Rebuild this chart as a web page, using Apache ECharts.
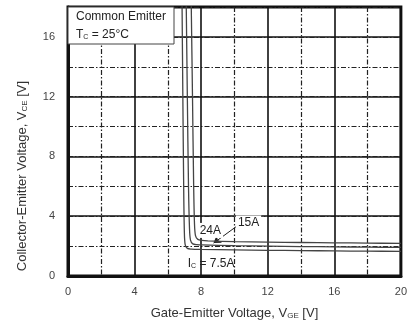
<!DOCTYPE html>
<html>
<head>
<meta charset="utf-8">
<script src="https://cdn.jsdelivr.net/npm/echarts@6/dist/echarts.min.js"></script>
<style>
html,body{margin:0;padding:0;background:#fff;}
#c{width:410px;height:327px;}
</style>
</head>
<body>
<div id="c"></div>
<script>
// ---- data ----
var xTicks = [0, 4, 8, 12, 16, 20];
var yTicks = [0, 4, 8, 12, 16];
var curveNames = ['7.5A', '15A', '24A'];
var vge_7_5A = [6.85, 6.9, 6.95, 6.99, 7.04, 7.17, 7.42, 8, 10, 12, 14, 16, 18, 20];
var vce_7_5A = [18.5, 12, 6, 3, 2.1, 1.85, 1.8, 1.78, 1.75, 1.72, 1.7, 1.68, 1.66, 1.65];
var vge_15A  = [7.1, 7.17, 7.24, 7.3, 7.36, 7.5, 7.75, 8.05, 10, 12, 14, 16, 18, 20];
var vce_15A  = [18.5, 12, 6, 3.2, 2.4, 2.15, 2.1, 2.08, 2.03, 2.0, 1.97, 1.95, 1.93, 1.92];
var vge_24A  = [7.4, 7.48, 7.55, 7.6, 7.66, 7.8, 8.05, 8.4, 10, 12, 14, 16, 18, 20];
var vce_24A  = [18.5, 12, 6, 3.5, 2.7, 2.45, 2.38, 2.35, 2.3, 2.27, 2.24, 2.22, 2.2, 2.18];

function zip(a, b) { return a.map(function (v, i) { return [v, b[i]]; }); }

var FONT = '"Liberation Sans", Arial, sans-serif';
var chart = echarts.init(document.getElementById('c'), null, {renderer: 'canvas'});
var lineStyleCurve = {color: '#444', width: 1.3};
var subRich = {sub: {fontSize: 7, verticalAlign: 'bottom', padding: [6, 0, 0, 0], color: '#222', fill: '#222', fontFamily: FONT}};

var option = {
  animation: false,
  backgroundColor: '#fff',
  grid: {left: 68, right: 5, top: 7, bottom: 51, show: true, borderColor: '#111', borderWidth: 3, backgroundColor: 'transparent'},
  xAxis: [{
    type: 'value', min: 0, max: 20, interval: 4,
    axisLine: {show: true, lineStyle: {color: '#111', width: 3}},
    axisTick: {show: false},
    axisLabel: {color: '#444', fontSize: 11, fontFamily: FONT, margin: 10,
      formatter: function (v) { return xTicks.indexOf(v) >= 0 ? String(v) : ''; }},
    splitLine: {show: true, lineStyle: {color: '#111', width: 1.6, type: 'solid'}},
    minorTick: {show: false, splitNumber: 2},
    minorSplitLine: {show: true, lineStyle: {color: '#222', width: 1.2, type: [5, 2, 1.5, 2]}},
    name: 'Gate-Emitter Voltage, V{sub|GE} [V]',
    nameLocation: 'middle', nameGap: 30,
    nameTextStyle: {color: '#333', fontSize: 13, fontFamily: FONT,
      rich: {sub: {fontSize: 8, verticalAlign: 'bottom', padding: [6, 0, 0, 0], color: '#333', fontFamily: FONT}}}
  }],
  yAxis: [{
    type: 'value', min: 0, max: 18, interval: 4,
    axisLine: {show: true, lineStyle: {color: '#111', width: 3}},
    axisTick: {show: false},
    axisLabel: {color: '#444', fontSize: 11, fontFamily: FONT, margin: 13, showMaxLabel: false,
      formatter: function (v) { return yTicks.indexOf(v) >= 0 ? String(v) : ''; }},
    splitLine: {show: true, lineStyle: {color: '#111', width: 1.6, type: 'solid'}}
  }, {
    type: 'value', min: 0, max: 18, interval: 2, position: 'left',
    axisLine: {show: false}, axisTick: {show: false}, axisLabel: {show: false},
    splitLine: {show: true, lineStyle: {color: '#222', width: 1.2, type: [5, 2, 1.5, 2]}}
  }],
  graphic: [{
    type: 'rect', z: 100, zlevel: 0, x: 68, y: 7,
    shape: {x: 0, y: 0, width: 106, height: 37},
    style: {fill: '#fff', stroke: '#444', lineWidth: 1}
  }, {
    type: 'text', z: 101, x: 76, y: 11,
    style: {text: 'Common Emitter', fill: '#222', font: '12px ' + FONT}
  }, {
    type: 'text', z: 101, x: 76, y: 28,
    style: {text: 'T{sub|C} = 25°C', fill: '#222', font: '12px ' + FONT, rich: subRich}
  }, {
    type: 'text', z: 101, x: 22, y: 176, rotation: Math.PI / 2,
    style: {text: 'Collector-Emitter Voltage, V{sub|CE} [V]', fill: '#333', font: '13px ' + FONT,
      align: 'center', verticalAlign: 'middle',
      rich: {sub: {fontSize: 8, verticalAlign: 'bottom', padding: [6, 0, 0, 0], fill: '#333', fontFamily: FONT}}}
  }],
  series: [{
    name: curveNames[0], type: 'line', data: zip(vge_7_5A, vce_7_5A), showSymbol: false, smooth: 0.3,
    lineStyle: lineStyleCurve, z: 5,
    markPoint: {
      symbol: 'rect', symbolSize: 0, silent: true,
      label: {show: true, position: 'inside', color: '#222', fontSize: 12, fontFamily: FONT, rich: subRich},
      data: [{coord: [8.6, 0.85], value: 'I{sub|C} = 7.5A', label: {formatter: 'I{sub|C} = 7.5A'}}]
    }
  }, {
    name: curveNames[1], type: 'line', data: zip(vge_15A, vce_15A), showSymbol: false, smooth: 0.3,
    lineStyle: lineStyleCurve, z: 5,
    markLine: {
      silent: true, symbol: ['none', 'arrow'], symbolSize: 7,
      lineStyle: {color: '#222', width: 1, type: 'solid'},
      label: {show: false},
      data: [[{coord: [10.1, 3.3]}, {coord: [8.75, 2.2]}]]
    },
    markPoint: {
      symbol: 'rect', symbolSize: 0, silent: true,
      label: {show: true, position: 'inside', color: '#222', fontSize: 12, fontFamily: FONT,
        backgroundColor: '#fff', padding: [2, 2, 1, 2]},
      data: [{coord: [10.85, 3.55], value: '15A', label: {formatter: '15A'}}]
    }
  }, {
    name: curveNames[2], type: 'line', data: zip(vge_24A, vce_24A), showSymbol: false, smooth: 0.3,
    lineStyle: lineStyleCurve, z: 5,
    markPoint: {
      symbol: 'rect', symbolSize: 0, silent: true,
      label: {show: true, position: 'inside', color: '#222', fontSize: 12, fontFamily: FONT,
        backgroundColor: '#fff', padding: [2, 2, 1, 2]},
      data: [{coord: [8.55, 3.05], value: '24A', label: {formatter: '24A'}}]
    }
  }]
};
chart.setOption(option);
</script>
</body>
</html>
